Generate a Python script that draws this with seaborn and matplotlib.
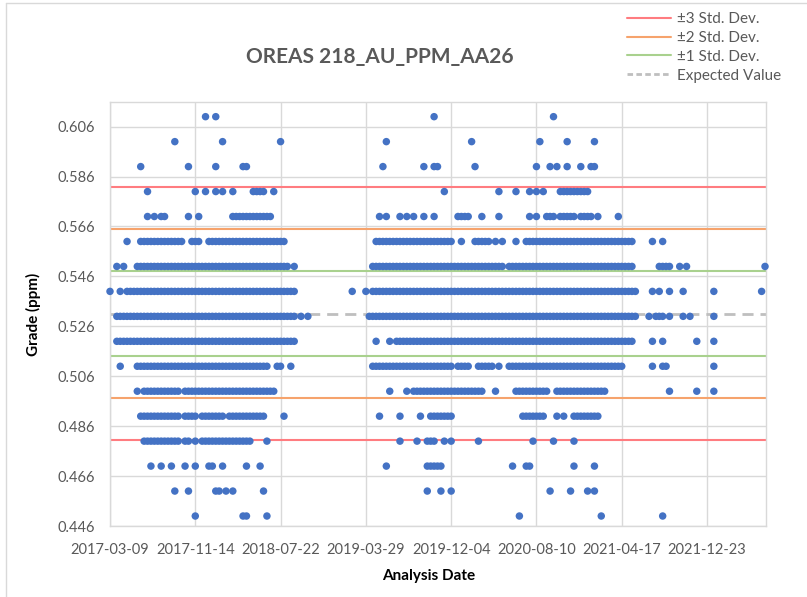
import matplotlib
matplotlib.use("Agg")
import matplotlib.pyplot as plt
from matplotlib.lines import Line2D
import pandas as pd
import seaborn as sns


START_DATE = pd.Timestamp("2017-03-09")
END_DATE = pd.Timestamp("2022-06-13")
BIN_DAYS = 10

# reported Au grades (ppm), one row of points per grade
grade_levels = [0.61, 0.60, 0.59, 0.58, 0.57, 0.56, 0.55, 0.54, 0.53,
                0.52, 0.51, 0.50, 0.49, 0.48, 0.47, 0.46, 0.45]

# 10-day bins (counted from START_DATE) holding a result at that grade, "a-b" = every bin a..b
observed_bins = [
    "28 31 95 130",
    "19 33 50 81 106 126 134 142",
    "9 23 31 39 40 80 92 95 96 107 125 129 131 134 138 141 142",
    "11 25 28 31 33 36 42-45 48 98 114 119 123 125 127 132-140",
    "11 13 15 16 23 26 36-47 79 81 85 87 89 92 95 102-105 109 114 123 125 128-130 132-136 138-141 143 149",
    "5 9-21 24-26 29-51 78-100 103 107-111 113 115 119 122-153 159 162",
    "2 4 8-52 54 77-115 117-153 161-164 167 169 192",
    "0 3 5-54 71 75 77-154 159 161 164 168 177 191",
    "2-54 56 58 76-154 158 160-162 164 168 170 177",
    "2-54 78 82 84-153 159 162 172 177",
    "3 8-46 49 50 53 77-100 102-105 108-112 114 117-150 159 162 163 177",
    "8 10-20 22-48 82 87 89-109 113 119-128 131-145 164 172 177",
    "9-20 22-25 27-33 35-45 51 79 85 91 94-100 121-127 131 133 136-143",
    "10-20 22 23 25 27-41 46 85 90 93-95 98 100 108 124 130 136",
    "12 15 18 22 25 29 30 33 40 44 81 93-97 118 122 123 136 142",
    "19 23 31 32 34 36 45 93 97 100 129 135 140 142",
    "25 39 40 46 120 144 162",
]

expected_value = 0.5311
std_dev = 0.0169

x_tick_dates = ["2017-03-09", "2017-11-14", "2018-07-22", "2019-03-29",
                "2019-12-04", "2020-08-10", "2021-04-17", "2021-12-23"]
y_ticks = [0.446, 0.466, 0.486, 0.506, 0.526, 0.546, 0.566, 0.586, 0.606]

band_labels = ["±3 Std. Dev.", "±2 Std. Dev.", "±1 Std. Dev."]
band_colors = ["#FF7C80", "#F6A36C", "#A9D18E"]
ev_color = "#BFBFBF"
point_color = "#4472C4"
text_grey = "#595959"


def expand_bins(spec):
    out = []
    for tok in spec.split():
        if "-" in tok:
            a, b = tok.split("-")
            out.extend(range(int(a), int(b) + 1))
        else:
            out.append(int(tok))
    return out


rows = []
for grade, spec in zip(grade_levels, observed_bins):
    for b in expand_bins(spec):
        rows.append({"date": START_DATE + pd.Timedelta(days=b * BIN_DAYS), "grade": grade})
results = pd.DataFrame(rows)

sns.set_theme(style="white")
plt.rcParams["font.family"] = ["Lato", "DejaVu Sans"]

W, H = 807, 597
fig = plt.figure(figsize=(W / 100, H / 100), dpi=100)
ax = fig.add_axes([110 / W, 1 - 526 / H, 655.7 / W, (526 - 101.7) / H])

for k, color in zip([3, 2, 1], band_colors):
    ax.axhline(expected_value + k * std_dev, color=color, lw=1.5, zorder=1)
    ax.axhline(expected_value - k * std_dev, color=color, lw=1.5, zorder=1)
ax.axhline(expected_value, color=ev_color, lw=2, ls=(0, (4, 2.5)), zorder=1)

sns.scatterplot(data=results, x="date", y="grade", color=point_color, s=29,
                edgecolor="none", linewidth=0, ax=ax, zorder=3, clip_on=False, legend=False)

ax.set_xlim(START_DATE, END_DATE)
ax.set_ylim(0.446, 0.616)
ax.set_xticks(pd.to_datetime(x_tick_dates))
ax.set_xticklabels(x_tick_dates)
ax.set_yticks(y_ticks)
ax.set_yticklabels([f"{v:.3f}" for v in y_ticks])
ax.grid(True, color="#D9D9D9", lw=1)
ax.set_axisbelow(True)
ax.tick_params(length=0, labelcolor=text_grey, labelsize=10.5)
ax.tick_params(axis="x", pad=12)
ax.tick_params(axis="y", pad=10.5)
for s in ax.spines.values():
    s.set_color("#D9D9D9")
    s.set_linewidth(1)
ax.set_xlabel("")
ax.set_ylabel("")

fig.text(380 / W, 1 - 57 / H, "OREAS 218_AU_PPM_AA26", ha="center", va="center",
         fontsize=15, fontweight="bold", color=text_grey)
fig.text(33 / W, 1 - 314 / H, "Grade (ppm)", ha="center", va="center", rotation=90,
         fontsize=11, fontweight="bold", color="black")
fig.text(429 / W, 1 - 576 / H, "Analysis Date", ha="center", va="center",
         fontsize=11, fontweight="bold", color="black")

handles = [Line2D([], [], color=c, lw=1.5) for c in band_colors]
handles.append(Line2D([], [], color=ev_color, lw=2, ls=(0, (2, 1.2))))
fig.legend(handles, band_labels + ["Expected Value"], loc="upper left",
           bbox_to_anchor=(627 / W, 1 - 12 / H), frameon=False, fontsize=11,
           labelcolor=text_grey, handlelength=2.9, handletextpad=0.35,
           labelspacing=0.32, borderpad=0, borderaxespad=0)

# chart-area border (left and top edges visible in the reference)
fig.add_artist(Line2D([6 / W, 6 / W], [0, 1 - 3 / H], transform=fig.transFigure,
                      color="#D9D9D9", lw=1))
fig.add_artist(Line2D([6 / W, 1], [1 - 3 / H, 1 - 3 / H], transform=fig.transFigure,
                      color="#D9D9D9", lw=1))

fig.savefig("out.png", dpi=100)
